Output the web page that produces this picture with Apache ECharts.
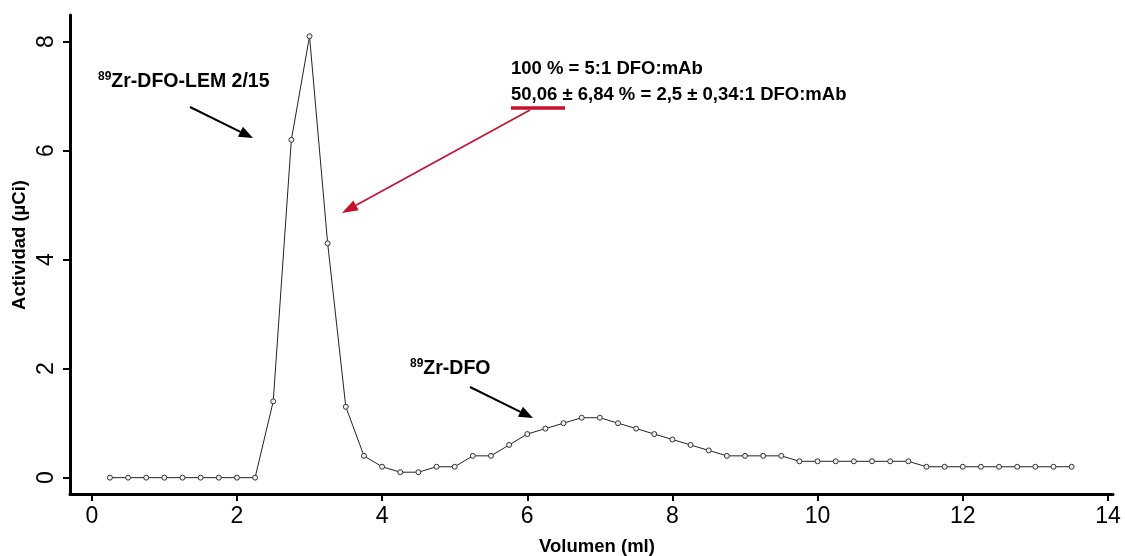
<!DOCTYPE html>
<html>
<head>
<meta charset="utf-8">
<script src="https://cdn.jsdelivr.net/npm/echarts@6/dist/echarts.min.js"></script>
<style>
  html, body { margin: 0; padding: 0; background: #fff; }
  #chart { width: 1125px; height: 556px; }
</style>
</head>
<body>
<div id="chart"></div>
<script>
// volumen (ml) de cada fracción
const volumen = [
  0.25, 0.5, 0.75, 1, 1.25, 1.5, 1.75, 2, 2.25,
  2.5, 2.75, 3, 3.25, 3.5, 3.75, 4, 4.25, 4.5, 4.75, 5, 5.25, 5.5, 5.75,
  6, 6.25, 6.5, 6.75, 7, 7.25, 7.5, 7.75, 8, 8.25, 8.5, 8.75,
  9, 9.25, 9.5, 9.75, 10, 10.25, 10.5, 10.75, 11, 11.25,
  11.5, 11.75, 12, 12.25, 12.5, 12.75, 13, 13.25, 13.5
]
// actividad (µCi)
const actividad = [
  0, 0, 0, 0, 0, 0, 0, 0, 0,
  1.4, 6.2, 8.1, 4.3, 1.3, 0.4, 0.2, 0.1, 0.1, 0.2, 0.2, 0.4, 0.4, 0.6,
  0.8, 0.9, 1.0, 1.1, 1.1, 1.0, 0.9, 0.8, 0.7, 0.6, 0.5, 0.4,
  0.4, 0.4, 0.4, 0.3, 0.3, 0.3, 0.3, 0.3, 0.3, 0.3,
  0.2, 0.2, 0.2, 0.2, 0.2, 0.2, 0.2, 0.2, 0.2
]
const xTicks = [0, 2, 4, 6, 8, 10, 12, 14]
const yTicks = [0, 2, 4, 6, 8]

const tickFont = '"Liberation Sans Narrow", "Liberation Sans", Arial, sans-serif'
const boldFont = '"Liberation Sans", Arial, sans-serif'
const red = '#c8102e'

function arrow(x1, y1, x2, y2, color, width, head, hwRatio) {
  // linea + punta de flecha
  const a = Math.atan2(y2 - y1, x2 - x1)
  const hl = head, hw = head * (hwRatio || 0.4)
  const bx = x2 - hl * Math.cos(a), by = y2 - hl * Math.sin(a)
  const px = -Math.sin(a) * hw, py = Math.cos(a) * hw
  return [
    { type: 'line', shape: { x1: x1, y1: y1, x2: bx, y2: by }, style: { stroke: color, lineWidth: width } },
    { type: 'polygon', shape: { points: [[x2, y2], [bx + px, by + py], [bx - px, by - py]] }, style: { fill: color } }
  ]
}

const chart = echarts.init(document.getElementById('chart'))

const pares = volumen.map((v, i) => [v, actividad[i]])

chart.setOption({
  animation: false,
  grid: { left: 70, right: 12, top: 15, bottom: 62 },
  xAxis: {
    type: 'value',
    min: -0.3,
    max: 14.07,
    axisLine: { onZero: false, lineStyle: { color: '#000', width: 3 } },
    axisTick: { customValues: xTicks, length: 7, lineStyle: { color: '#000', width: 2 } },
    axisLabel: { customValues: xTicks, margin: 11, color: '#000', fontSize: 23, fontFamily: tickFont },
    splitLine: { show: false }
  },
  yAxis: {
    type: 'value',
    min: -0.3,
    max: 8.49,
    axisLine: { show: true, onZero: false, lineStyle: { color: '#000', width: 3 } },
    axisTick: { show: true, customValues: yTicks, length: 7, lineStyle: { color: '#000', width: 2 } },
    axisLabel: { customValues: yTicks, rotate: 90, margin: 12, color: '#000', fontSize: 23, fontFamily: tickFont },
    splitLine: { show: false }
  },
  series: [{
    type: 'line',
    data: pares,
    symbol: 'circle',
    symbolSize: 5,
    showAllSymbol: true,
    lineStyle: { color: '#222', width: 1 },
    itemStyle: { color: '#eee', borderColor: '#333', borderWidth: 1 }
  }],
  graphic: [
    {
      type: 'text', x: 597, y: 547,
      style: { text: 'Volumen (ml)', font: 'bold 18.5px ' + boldFont, fill: '#000', align: 'center', verticalAlign: 'middle' }
    },
    {
      type: 'text', x: 20, y: 245, rotation: Math.PI / 2,
      style: { text: 'Actividad (µCi)', font: 'bold 18.5px ' + boldFont, fill: '#000', align: 'center', verticalAlign: 'middle' }
    },
    {
      type: 'text', x: 98, y: 93,
      style: {
        text: '{s|89}{m|Zr-DFO-LEM 2/15}',
        verticalAlign: 'bottom',
        rich: {
          s: { font: 'bold 12px ' + boldFont, fill: '#000', verticalAlign: 'top', lineHeight: 22 },
          m: { font: 'bold 19.5px ' + boldFont, fill: '#000', lineHeight: 22 }
        }
      }
    },
    {
      type: 'text', x: 410, y: 380,
      style: {
        text: '{s|89}{m|Zr-DFO}',
        verticalAlign: 'bottom',
        rich: {
          s: { font: 'bold 12px ' + boldFont, fill: '#000', verticalAlign: 'top', lineHeight: 22 },
          m: { font: 'bold 19.5px ' + boldFont, fill: '#000', lineHeight: 22 }
        }
      }
    },
    {
      type: 'text', x: 511, y: 69,
      style: { text: '100 % = 5:1 DFO:mAb', font: 'bold 18.5px ' + boldFont, fill: '#000', verticalAlign: 'middle' }
    },
    {
      type: 'text', x: 511, y: 95,
      style: { text: '50,06 ± 6,84 % = 2,5 ± 0,34:1 DFO:mAb', font: 'bold 18.5px ' + boldFont, fill: '#000', verticalAlign: 'middle' }
    },
    {
      type: 'line', shape: { x1: 511, y1: 108, x2: 565, y2: 108 },
      style: { stroke: red, lineWidth: 3.5 }
    }
  ]
    .concat(arrow(190, 107, 253, 138, '#000', 2, 14))
    .concat(arrow(470, 387, 533, 418, '#000', 2, 14))
    .concat(arrow(530, 110, 342, 213, red, 1.6, 16, 0.35))
})
</script>
</body>
</html>
